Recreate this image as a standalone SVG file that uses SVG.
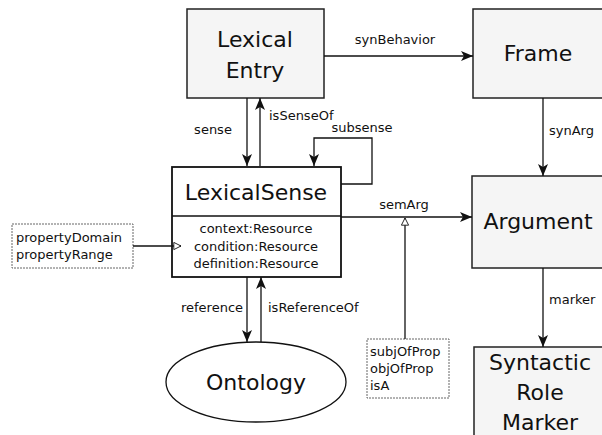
<svg xmlns="http://www.w3.org/2000/svg" width="602" height="435" viewBox="0 0 602 435">
<style>
.box{fill:#f5f5f5;stroke:#222;stroke-width:1.5}
.big{font-family:"DejaVu Sans",sans-serif;font-size:22px;fill:#111;text-anchor:middle}
.lbl{font-family:"DejaVu Sans",sans-serif;font-size:13px;fill:#111}
.ln{fill:none;stroke:#111;stroke-width:1.3}
.dot{fill:#fff;stroke:#666;stroke-width:1;stroke-dasharray:2,1}
</style>
<defs>
<marker id="ar" viewBox="0 0 12 10" refX="12" refY="5" markerWidth="12" markerHeight="10" markerUnits="userSpaceOnUse" orient="auto">
<path d="M0,0 L12,5 L0,10 L3,5 Z" fill="#111"/>
</marker>
<marker id="tri" viewBox="0 0 10 10" refX="9" refY="5" markerWidth="9" markerHeight="9" markerUnits="userSpaceOnUse" orient="auto">
<path d="M1,1 L9,5 L1,9 Z" fill="#fff" stroke="#111" stroke-width="1"/>
</marker>
</defs>
<g id="lexicalEntry">
<rect class="box" x="187" y="9" width="137" height="89"/>
<text class="big" x="255" y="47">Lexical</text>
<text class="big" x="255" y="78">Entry</text>
</g>
<g id="frame">
<rect class="box" x="473" y="9" width="135" height="89"/>
<text class="big" x="538" y="61">Frame</text>
</g>
<g id="lexicalSense">
<rect x="172" y="167" width="169" height="110" fill="#fff" stroke="#111" stroke-width="1.8"/>
<line x1="172" y1="216" x2="341" y2="216" stroke="#111" stroke-width="1.3"/>
<text class="big" x="256" y="200">LexicalSense</text>
<text class="lbl" x="256" y="233" text-anchor="middle">context:Resource</text>
<text class="lbl" x="256" y="251" text-anchor="middle">condition:Resource</text>
<text class="lbl" x="256" y="268" text-anchor="middle">definition:Resource</text>
</g>
<g id="propertyNote">
<rect class="dot" x="12" y="224" width="121" height="44"/>
<text class="lbl" x="16" y="242">propertyDomain</text>
<text class="lbl" x="16" y="259">propertyRange</text>
</g>
<g id="argument">
<rect class="box" x="472" y="176" width="136" height="92"/>
<text class="big" x="538" y="229">Argument</text>
</g>
<g id="ontology">
<ellipse cx="256" cy="382" rx="90" ry="40" fill="#fff" stroke="#111" stroke-width="1.3"/>
<text class="big" x="256" y="390">Ontology</text>
</g>
<g id="argNote">
<rect class="dot" x="367" y="339" width="82" height="59"/>
<text class="lbl" x="370" y="356">subjOfProp</text>
<text class="lbl" x="370" y="373">objOfProp</text>
<text class="lbl" x="370" y="390">isA</text>
</g>
<g id="syntacticRoleMarker">
<rect class="box" x="474" y="347" width="134" height="95"/>
<text class="big" x="540" y="370">Syntactic</text>
<text class="big" x="540" y="400">Role</text>
<text class="big" x="540" y="430">Marker</text>
</g>
<g id="connectors">
<line class="ln" x1="324" y1="56" x2="473" y2="56" marker-end="url(#ar)"/>
<text class="lbl" x="395" y="44" text-anchor="middle">synBehavior</text>
<line class="ln" x1="247" y1="98" x2="247" y2="166" marker-end="url(#ar)"/>
<text class="lbl" x="213" y="134" text-anchor="middle">sense</text>
<line class="ln" x1="260" y1="166" x2="260" y2="98" marker-end="url(#ar)"/>
<text class="lbl" x="269" y="120">isSenseOf</text>
<polyline class="ln" points="341,184 372,184 372,138 314,138 314,166" marker-end="url(#ar)"/>
<text class="lbl" x="362" y="132" text-anchor="middle">subsense</text>
<line class="ln" x1="543" y1="98" x2="543" y2="176" marker-end="url(#ar)"/>
<text class="lbl" x="549" y="135">synArg</text>
<line class="ln" x1="341" y1="217" x2="472" y2="217" marker-end="url(#ar)"/>
<text class="lbl" x="404" y="209" text-anchor="middle">semArg</text>
<line class="ln" x1="405" y1="339" x2="405" y2="218" marker-end="url(#tri)"/>
<line class="ln" x1="133" y1="246" x2="181" y2="246" marker-end="url(#tri)"/>
<line class="ln" x1="247" y1="277" x2="247" y2="342" marker-end="url(#ar)"/>
<text class="lbl" x="212" y="312" text-anchor="middle">reference</text>
<line class="ln" x1="261" y1="342" x2="261" y2="277" marker-end="url(#ar)"/>
<text class="lbl" x="268" y="312">isReferenceOf</text>
<line class="ln" x1="543" y1="268" x2="543" y2="347" marker-end="url(#ar)"/>
<text class="lbl" x="549" y="304">marker</text>
</g>
</svg>
